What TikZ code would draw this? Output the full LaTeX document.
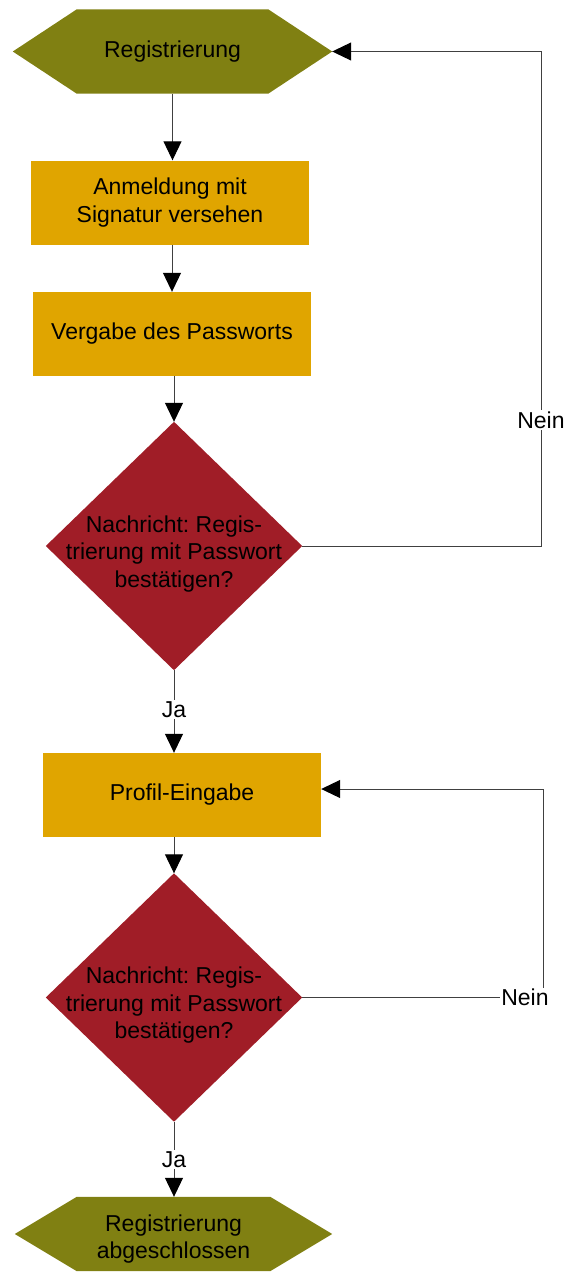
\documentclass[tikz,border=0pt]{standalone}
\usepackage{fontspec}
\setmainfont{Liberation Sans}
\usetikzlibrary{arrows.meta,backgrounds,calc}
\definecolor{hexolive}{RGB}{128,128,18}
\definecolor{boxgold}{RGB}{224,165,0}
\definecolor{decred}{RGB}{160,29,39}
\definecolor{linegray}{RGB}{64,64,64}
\frenchspacing

\begin{document}
\begin{tikzpicture}[x=1pt,y=-1pt,
  txt/.style={font=\fontsize{23}{27.6}\selectfont, align=center, inner sep=0pt},
  dtxt/.style={font=\fontsize{23}{27.5}\selectfont, align=center, inner sep=0pt},
  hexcore/.style={txt, minimum height=#1},
  stepbox/.style={txt, fill=boxgold, minimum width=278pt, minimum height=84pt},
  decarea/.style={inner sep=0pt, minimum width=256pt, minimum height=248pt},
  conn/.style={draw=linegray, line width=1pt,
    -{Triangle[length=19pt,width=18pt,color=black]}},
  lab/.style={fill=white, font=\fontsize{23}{27.6}\selectfont, inner sep=1.5pt}]

\useasboundingbox (0,0) rectangle (565,1274);

% start and end terminals (text cores; the hexagon outline is filled behind)
\node[hexcore=84pt, minimum width=191pt] (h1) at (172.5,51.5) {Registrierung};
\node[hexcore=74pt, minimum width=193pt] (h2) at (173.5,1234) {};
\node[txt] (h2t) at (173.5,1239) {Registrierung\\abgeschlossen};

% process steps
\node[stepbox] (b1) at (170,202.5) {Anmeldung mit\\Signatur versehen};
\node[stepbox] (b2) at (172,334) {Vergabe des Passworts};
\node[stepbox] (b4) at (182,795) {Profil-Eingabe};

% decisions
\node[decarea] (d1) at (174,546) {};
\node[decarea] (d2) at (174,997.5) {};
\node[dtxt] (d1t) at (174,554) {Nachricht: Regis-\\trierung mit Passwort\\bestätigen?};
\node[dtxt] (d2t) at (174,1005.5) {Nachricht: Regis-\\trierung mit Passwort\\bestätigen?};

\begin{scope}[on background layer]
  \fill[hexolive] (h1.north west) -- (h1.north east) -- ($(h1.east)+(64,0)$)
    -- (h1.south east) -- (h1.south west) -- ($(h1.west)+(-64,0)$) -- cycle;
  \fill[hexolive] (h2.north west) -- (h2.north east) -- ($(h2.east)+(62,0)$)
    -- (h2.south east) -- (h2.south west) -- ($(h2.west)+(-62,0)$) -- cycle;
  \fill[decred] (d1.north) -- (d1.east) -- (d1.south) -- (d1.west) -- cycle;
  \fill[decred] (d2.north) -- (d2.east) -- (d2.south) -- (d2.west) -- cycle;
\end{scope}

% helper points for the return loops
\coordinate (h1tip) at ($(h1.east)+(64,0)$);
\coordinate (b4in) at ($(b4.east)+(0,-6)$);
\coordinate (r1) at (541,0);
\coordinate (r2) at (543,0);

% main flow
\draw[conn] (h1.south) -- (h1.south |- b1.north);
\draw[conn] (b1.south -| b2.north) -- (b2.north);
\draw[conn] (b2.south -| d1.north) -- (d1.north);
\draw[conn] (d1.south) -- node[lab, pos=0.48] (ja1) {Ja} (d1.south |- b4.north);
\draw[conn] (b4.south -| d2.north) -- (d2.north);
\draw[conn] (d2.south) -- node[lab, pos=0.5] (ja2) {Ja} (d2.south |- h2.north);

% "Nein" loops
\draw[conn] (d1.east) -- (d1.east -| r1)
  -- node[lab, pos=0.255] (nein1) {Nein} (h1tip -| r1) -- (h1tip);
\draw[conn] (d2.east) -- node[lab, pos=0.925] (nein2) {Nein} (d2.east -| r2)
  -- (b4in -| r2) -- (b4in);

\end{tikzpicture}
\end{document}
